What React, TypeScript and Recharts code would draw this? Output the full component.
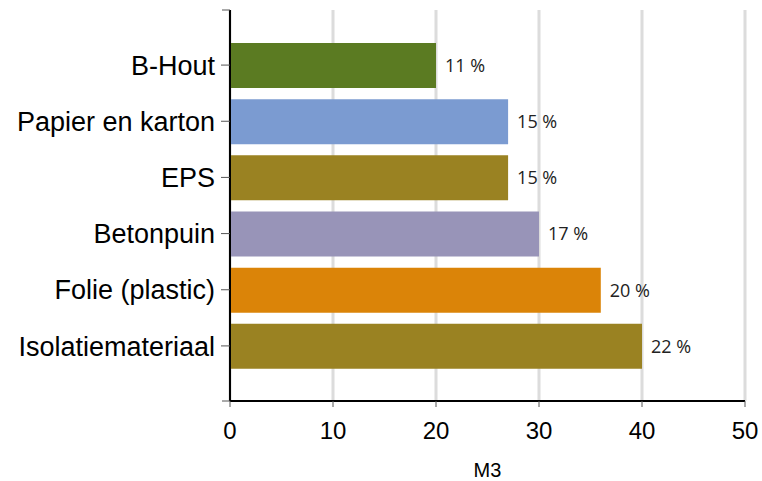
import React from 'react';
import { BarChart, Bar, XAxis, YAxis, CartesianGrid, LabelList, Cell } from 'recharts';

const categories = ['B-Hout', 'Papier en karton', 'EPS', 'Betonpuin', 'Folie (plastic)', 'Isolatiemateriaal'];
const volumes = [20, 27, 27, 30, 36, 40];
const shares = [11, 15, 15, 17, 20, 22];
const barColors = ['#5b7b22', '#7b9bd1', '#9a8222', '#9894b8', '#db8408', '#9a8222'];
const xTicks = [0, 10, 20, 30, 40, 50];

const data = categories.map((name, i) => ({ name, value: volumes[i], share: shares[i] }));

export default function App() {
  return (
    <div style={{ position: 'absolute', left: 0, top: 0, width: 762, height: 481, background: '#fff' }}>
      <BarChart
        width={762}
        height={481}
        data={data}
        layout="vertical"
        margin={{ top: 10, right: 17, bottom: 0, left: 0 }}
      >
        <CartesianGrid horizontal={false} stroke="#dcdcdc" strokeWidth={3} />
        <XAxis
          type="number"
          domain={[0, 50]}
          ticks={xTicks}
          height={80}
          axisLine={{ stroke: '#000', strokeWidth: 2 }}
          tickLine={{ stroke: '#555' }}
          tickSize={6}
          tickMargin={15}
          tick={{ fill: '#000', fontSize: 24, fontFamily: 'Liberation Sans, Arial, sans-serif' }}
          label={{ value: 'M3', position: 'insideBottom', offset: 4, fill: '#000', fontSize: 20, fontFamily: 'Liberation Sans, Arial, sans-serif' }}
        />
        <YAxis
          type="category"
          dataKey="name"
          width={230}
          padding={{ top: 27, bottom: 27 }}
          axisLine={{ stroke: '#000', strokeWidth: 2 }}
          tickLine={{ stroke: '#555' }}
          tickSize={9}
          tickMargin={6}
          tick={{ fill: '#000', fontSize: 27, fontFamily: 'Liberation Sans, Arial, sans-serif' }}
        />
        <Bar dataKey="value" barSize={45} isAnimationActive={false}>
          {data.map((d, i) => (
            <Cell key={d.name} fill={barColors[i]} />
          ))}
          <LabelList
            dataKey="share"
            position="right"
            offset={9}
            formatter={(v: number) => `${v} %`}
            style={{ fill: '#222', fontSize: 18, fontFamily: 'Open Sans, sans-serif' }}
          />
        </Bar>
      </BarChart>
      <svg width={762} height={481} style={{ position: 'absolute', left: 0, top: 0, pointerEvents: 'none' }}>
        <line x1={222} y1={10} x2={230} y2={10} stroke="#555" />
        <line x1={222} y1={401} x2={230} y2={401} stroke="#555" />
      </svg>
    </div>
  );
}
